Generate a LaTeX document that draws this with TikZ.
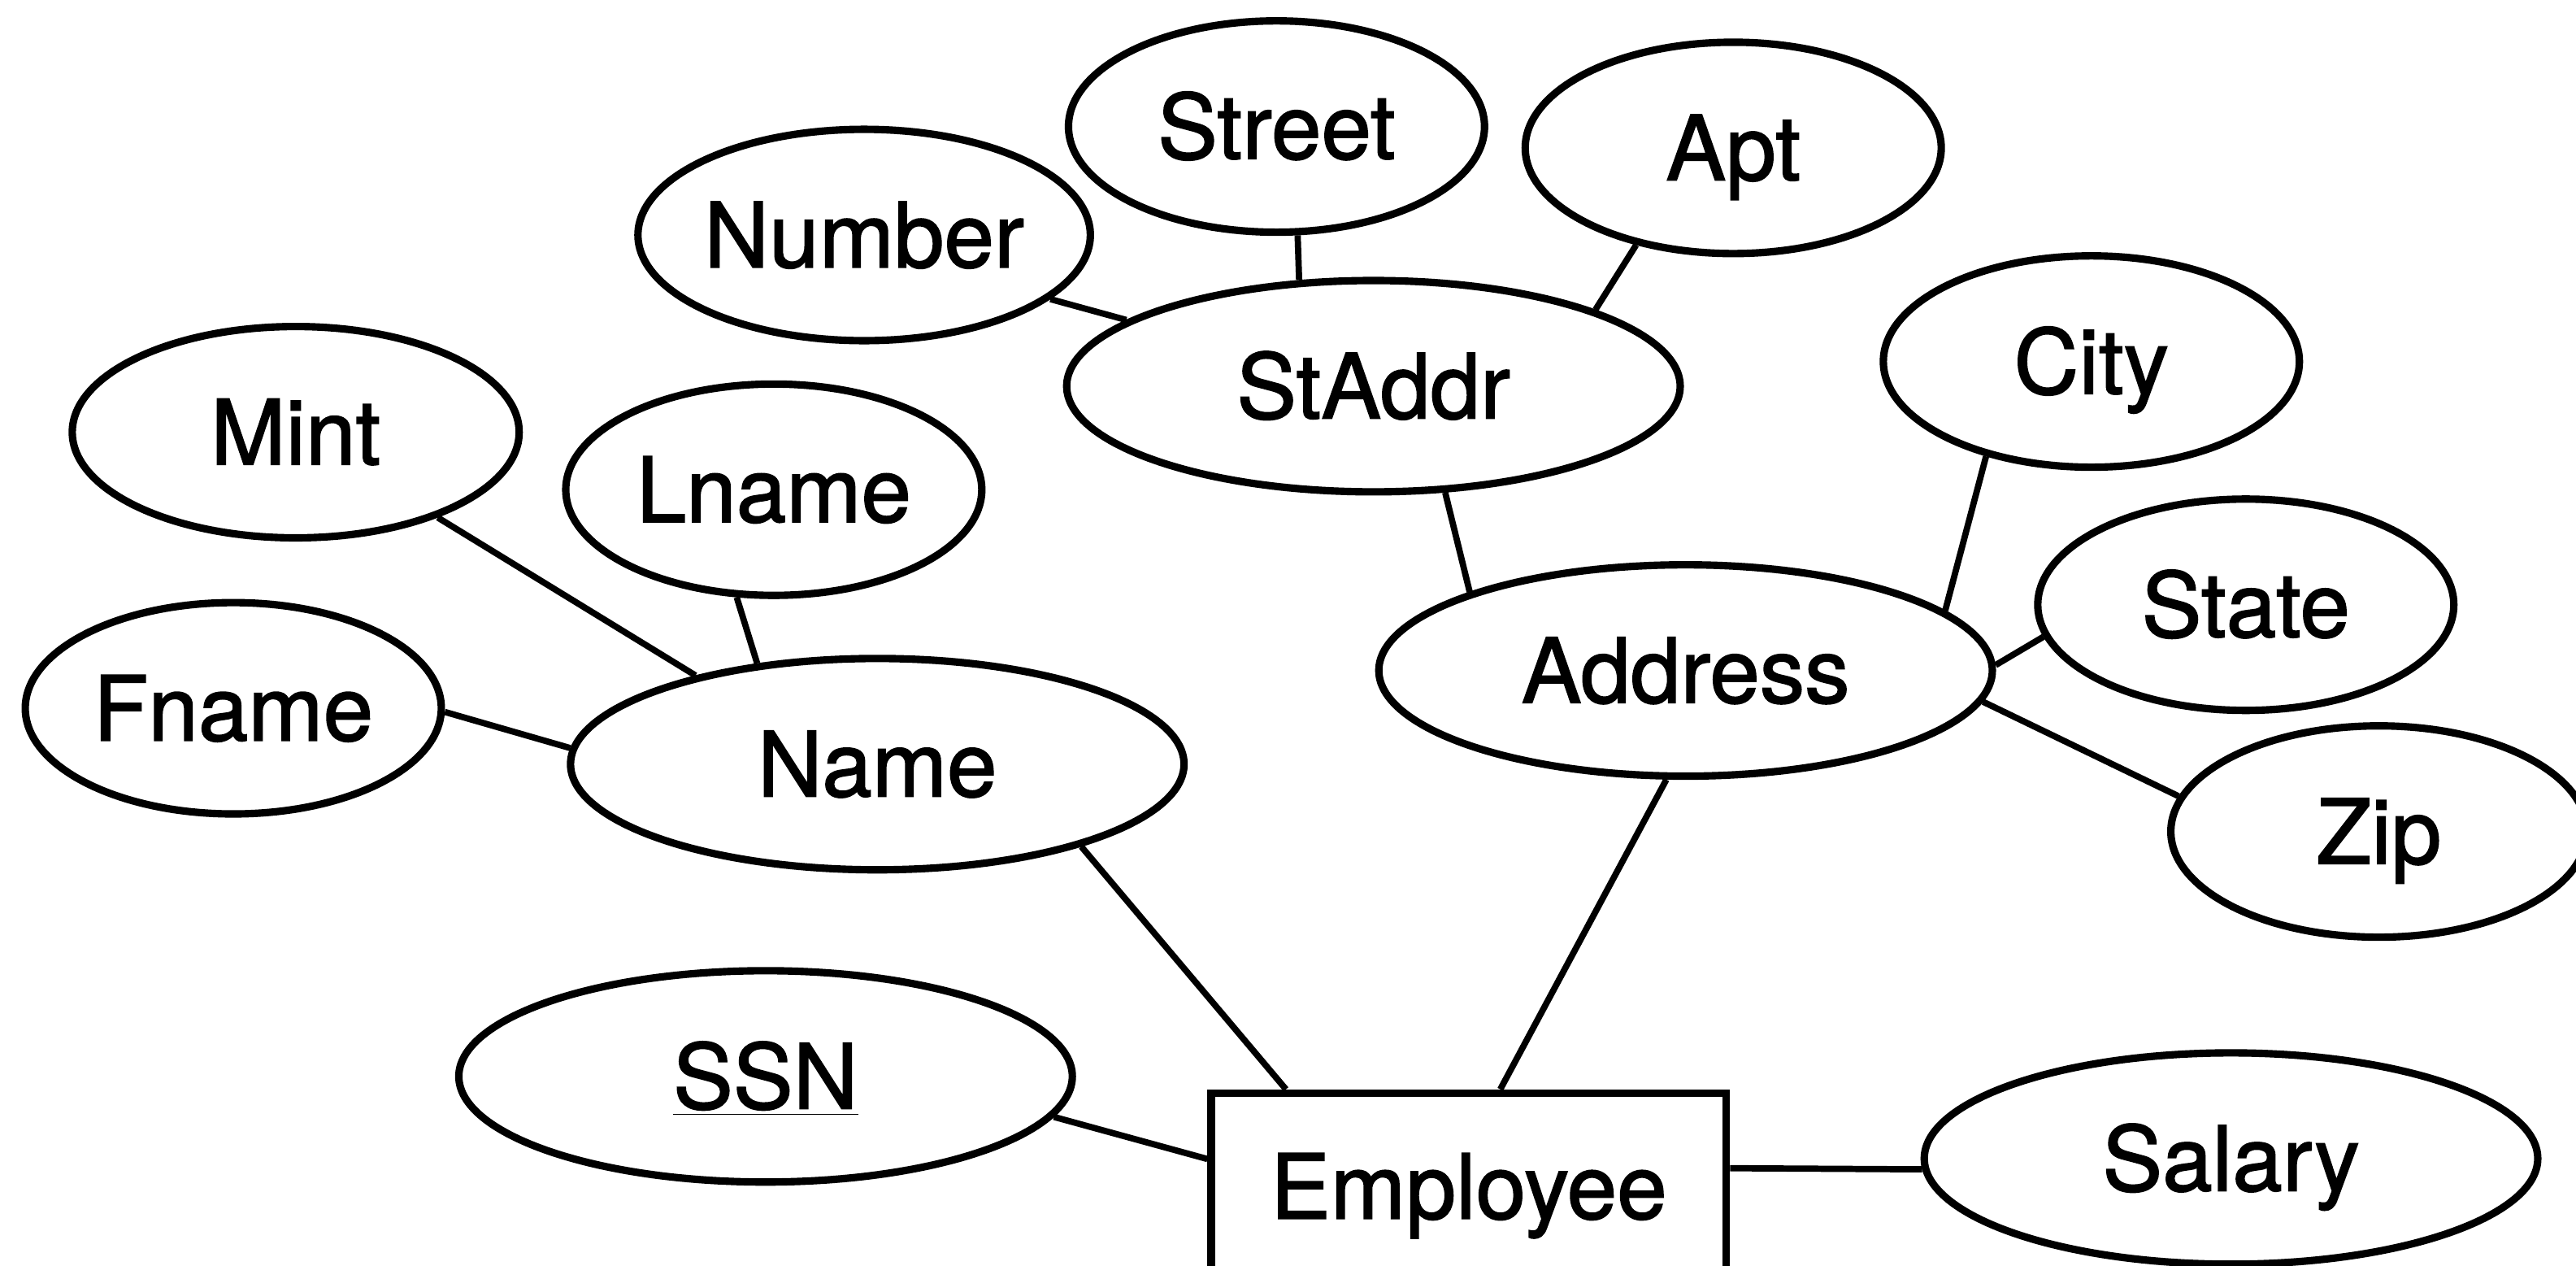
\documentclass[tikz,border=0pt]{standalone}
\usepackage{fontspec}
\setmainfont[FakeBold=1.5]{TeX Gyre Heros}
\usetikzlibrary{shapes.geometric}

\tikzset{
  erline/.style={line width=2.6pt, draw=black},
  lbl/.style={font=\fontsize{31.5}{38}\selectfont, text height=22.6pt, text depth=0pt, inner sep=0pt},
  attr/.style={erline, lbl, ellipse, minimum width=5.12cm, minimum height=2.60cm},
  bigattr/.style={attr, minimum width=7.55cm},
  entity/.style={erline, lbl, rectangle, minimum width=6.34cm, minimum height=2.30cm},
  link/.style={line width=2.2pt, draw=black}
}

\begin{document}
\begin{tikzpicture}[x=0.020211cm, y=-0.020211cm]
  \useasboundingbox (0,0) rectangle (1568,770);
  \clip (0,0) rectangle (1568,770);

  % entity
  \node[entity] (emp) at (894,722) {Employee};

  % attributes
  \node[bigattr] (name)    at (534,465)  {Name};
  \node[attr, minimum width=5.50cm] (mint) at (180,263) {Mint};
  \node[attr]    (lname)   at (471,298)  {Lname};
  \node[attr]    (fname)   at (142,431)  {Fname};
  \node[bigattr] (ssn)     at (466,655)  {\underline{SSN}};
  \node[bigattr] (address) at (1026,408) {Address};
  \node[bigattr] (staddr)  at (836,235)  {StAddr};
  \node[attr]    (street)  at (777,77)   {Street};
  \node[attr]    (apt)     at (1055,90)  {Apt};
  \node[attr]    (number)  at (526,143)  {Number};
  \node[attr]    (city)    at (1273,220) {City};
  \node[attr]    (state)   at (1367,368) {State};
  \node[attr]    (zip)     at (1448,506) {Zip};
  \node[bigattr] (salary)  at (1358,705) {Salary};

  % connectors
  \draw[link] (street.-79)  -- (staddr.125);
  \draw[link] (apt.-135)    -- (staddr.19.7);
  \draw[link] (number.-19.7)-- (staddr.165.4);
  \draw[link] (staddr.-56)  -- (address.160);
  \draw[link] (city.-138.6) -- (address.13.8);
  \draw[link] (state.-171.7)-- (address.1.2);
  \draw[link] (zip.170.2)   -- (address.-6.2);
  \draw[link] (mint.-31.1)  -- (name.154.7);
  \draw[link] (lname.-109.2)-- (name.140);
  \draw[link] (fname.-1.3)  -- (name.177.2);
  \draw[link] (name.-22.5)  -- (emp.152.2);
  \draw[link] (address.-100.8) -- (emp.72.5);
  \draw[link] (ssn.-8)      -- (emp.174.3);
  \draw[link] (emp.4)       -- (salary.-178.2);
\end{tikzpicture}
\end{document}
